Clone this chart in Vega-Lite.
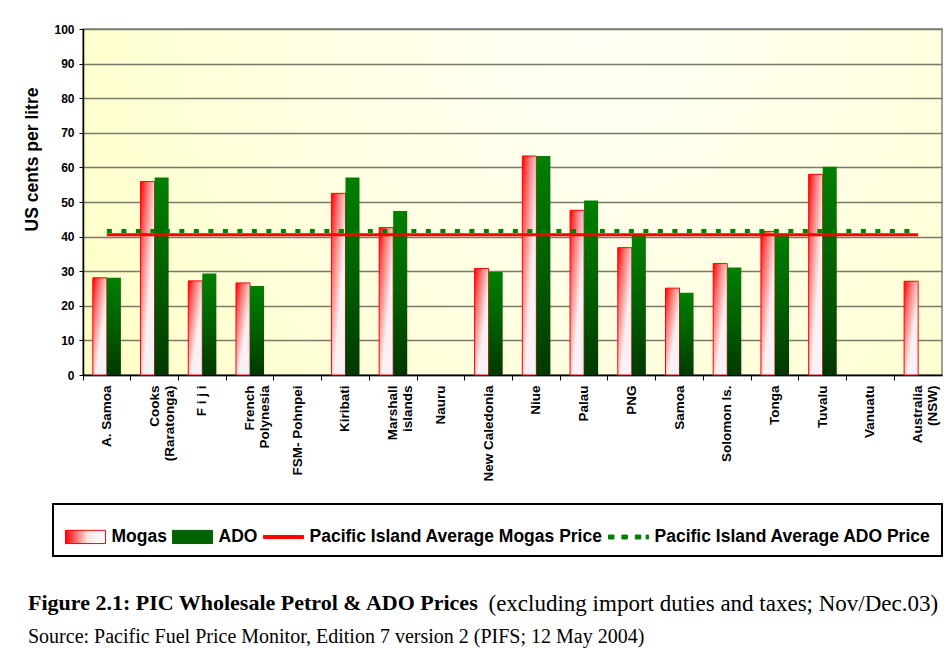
{
  "$schema": "https://vega.github.io/schema/vega-lite/v6.json",
  "width": 859,
  "height": 346,
  "autosize": "none",
  "padding": {"left": 83, "top": 29, "right": 8, "bottom": 273},
  "background": "white",
  "config": {
    "font": "Liberation Sans",
    "axisY": {"tickCount": 12},
    "legend": {"symbolSize": 1936},
    "view": {
      "fill": {"gradient": "radial", "x1": 0.6, "y1": 0.3, "r1": 0, "x2": 0.6, "y2": 0.3, "r2": 0.75,
        "stops": [{"offset": 0, "color": "#fffff6"}, {"offset": 0.5, "color": "#ffffe0"}, {"offset": 1, "color": "#ffffc4"}]},
      "stroke": "#808080",
      "strokeWidth": 1.5
    }
  },
  "title": {
    "text": "Figure 2.1: PIC Wholesale Petrol & ADO Prices",
    "subtitle": "Source: Pacific Fuel Price Monitor, Edition 7 version 2 (PIFS; 12 May 2004)",
    "orient": "bottom",
    "anchor": "start",
    "frame": "bounds",
    "offset": -22,
    "dx": 5,
    "font": "Liberation Serif",
    "fontSize": 22,
    "fontWeight": "bold",
    "color": "black",
    "subtitleFont": "Liberation Serif",
    "subtitleFontSize": 20,
    "subtitleFontWeight": "normal",
    "subtitleColor": "black",
    "subtitlePadding": 12
  },
  "datasets": {
    "prices": [
      {"country": "A. Samoa", "fuel": "Mogas", "price": 28.1},
      {"country": "A. Samoa", "fuel": "ADO", "price": 28.1},
      {"country": "Cooks|(Raratonga)", "fuel": "Mogas", "price": 55.9},
      {"country": "Cooks|(Raratonga)", "fuel": "ADO", "price": 57.1},
      {"country": "F i j i", "fuel": "Mogas", "price": 27.2},
      {"country": "F i j i", "fuel": "ADO", "price": 29.3},
      {"country": "French|Polynesia", "fuel": "Mogas", "price": 26.6},
      {"country": "French|Polynesia", "fuel": "ADO", "price": 25.7},
      {"country": "Kiribati", "fuel": "Mogas", "price": 52.5},
      {"country": "Kiribati", "fuel": "ADO", "price": 57.1},
      {"country": "Marshall|islands", "fuel": "Mogas", "price": 42.6},
      {"country": "Marshall|islands", "fuel": "ADO", "price": 47.4},
      {"country": "New Caledonia", "fuel": "Mogas", "price": 30.8},
      {"country": "New Caledonia", "fuel": "ADO", "price": 29.8},
      {"country": "Niue", "fuel": "Mogas", "price": 63.3},
      {"country": "Niue", "fuel": "ADO", "price": 63.3},
      {"country": "Palau", "fuel": "Mogas", "price": 47.6},
      {"country": "Palau", "fuel": "ADO", "price": 50.4},
      {"country": "PNG", "fuel": "Mogas", "price": 36.8},
      {"country": "PNG", "fuel": "ADO", "price": 40.4},
      {"country": "Samoa", "fuel": "Mogas", "price": 25.1},
      {"country": "Samoa", "fuel": "ADO", "price": 23.8},
      {"country": "Solomon Is.", "fuel": "Mogas", "price": 32.2},
      {"country": "Solomon Is.", "fuel": "ADO", "price": 31.1},
      {"country": "Tonga", "fuel": "Mogas", "price": 41.5},
      {"country": "Tonga", "fuel": "ADO", "price": 40.8},
      {"country": "Tuvalu", "fuel": "Mogas", "price": 58.0},
      {"country": "Tuvalu", "fuel": "ADO", "price": 60.2},
      {"country": "Australia|(NSW)", "fuel": "Mogas", "price": 27.1}
    ],
    "averages": [
      {"series": "Pacific Island Average Mogas Price", "start": "A. Samoa", "end": "Australia|(NSW)", "avg": 40.5},
      {"series": "Pacific Island Average ADO Price", "start": "A. Samoa", "end": "Australia|(NSW)", "avg": 41.6}
    ]
  },
  "layer": [
    {
      "data": {"name": "prices"},
      "transform": [{"filter": "datum.fuel === 'Mogas'"}],
      "mark": {
        "type": "bar",
        "fill": {"gradient": "linear", "x1": 0, "y1": 0, "x2": 1, "y2": 1,
          "stops": [{"offset": 0, "color": "#ff0000"}, {"offset": 0.25, "color": "#ff7070"}, {"offset": 0.6, "color": "#fff0f0"}, {"offset": 1, "color": "#f2f2ff"}]},
        "stroke": "#ff0000",
        "strokeWidth": 1
      },
      "encoding": {
        "x": {
          "field": "country", "type": "nominal", "sort": null,
          "title": "(excluding import duties and taxes; Nov/Dec.03)",
          "scale": {"domain": ["A. Samoa", "Cooks|(Raratonga)", "F i j i", "French|Polynesia", "FSM- Pohnpei", "Kiribati", "Marshall|islands", "Nauru", "New Caledonia", "Niue", "Palau", "PNG", "Samoa", "Solomon Is.", "Tonga", "Tuvalu", "Vanuatu", "Australia|(NSW)"], "paddingInner": 0, "paddingOuter": 0},
          "axis": {
            "bandPosition": 0,
            "labelAngle": -90,
            "labelExpr": "split(datum.label, '|')",
            "labelFont": "Liberation Sans",
            "labelFontSize": 13.5,
            "labelFontWeight": "bold",
            "labelColor": "black",
            "labelPadding": 5,
            "labelLineHeight": 15,
            "labelOverlap": false,
            "labelLimit": 200,
            "tickSize": 5,
            "tickColor": "black",
            "tickWidth": 1,
            "domainColor": "black",
            "domainWidth": 1.5,
            "grid": false,
            "titleFont": "Liberation Serif",
            "titleFontSize": 23,
            "titleFontWeight": "normal",
            "titleColor": "black",
            "titleX": 405,
            "titleY": 235,
            "titleAlign": "left",
            "titleBaseline": "alphabetic"
          }
        },
        "xOffset": {"field": "fuel", "type": "nominal", "scale": {"domain": ["Mogas", "ADO"], "paddingInner": 0, "paddingOuter": 0.7}},
        "y": {
          "field": "price", "type": "quantitative",
          "title": "US cents per litre",
          "scale": {"domain": [0, 100], "nice": false},
          "axis": {
            "values": [0, 10, 20, 30, 40, 50, 60, 70, 80, 90, 100],
            "tickCount": 12,
            "labelFont": "Liberation Sans",
            "labelFontSize": 12,
            "labelFontWeight": "bold",
            "labelColor": "black",
            "labelPadding": 5,
            "labelOverlap": false,
            "tickSize": 4,
            "tickColor": "black",
            "domainColor": "black",
            "domainWidth": 1.5,
            "gridColor": "#7a7a6a",
            "gridWidth": 1.5,
            "gridOpacity": 1,
            "titleFont": "Liberation Sans",
            "titleFontSize": 17.5,
            "titleFontWeight": "bold",
            "titleColor": "black",
            "titleAngle": -90,
            "titleX": -46,
            "titleY": 130,
            "titleAlign": "center",
            "titleBaseline": "alphabetic"
          }
        }
      }
    },
    {
      "data": {"name": "prices"},
      "transform": [{"filter": "datum.fuel === 'ADO'"}],
      "mark": {
        "type": "bar",
        "fill": {"gradient": "linear", "x1": 0, "y1": 0, "x2": 0, "y2": 1,
          "stops": [{"offset": 0, "color": "#008000"}, {"offset": 0.5, "color": "#006000"}, {"offset": 1, "color": "#003800"}]}
      },
      "encoding": {
        "x": {"field": "country", "type": "nominal", "sort": null, "title": "(excluding import duties and taxes; Nov/Dec.03)"},
        "xOffset": {"field": "fuel", "type": "nominal"},
        "y": {"field": "price", "type": "quantitative", "title": "US cents per litre", "axis": {"values": [0, 10, 20, 30, 40, 50, 60, 70, 80, 90, 100], "tickCount": 12}}
      }
    },
    {
      "data": {"name": "averages"},
      "transform": [{"filter": "datum.series === 'Pacific Island Average ADO Price'"}],
      "mark": {"type": "rule", "strokeWidth": 4, "strokeDash": [5, 9.5]},
      "encoding": {
        "x": {"field": "start", "type": "nominal", "title": "(excluding import duties and taxes; Nov/Dec.03)"},
        "x2": {"field": "end"},
        "y": {"field": "avg", "type": "quantitative", "title": "US cents per litre", "axis": {"values": [0, 10, 20, 30, 40, 50, 60, 70, 80, 90, 100], "tickCount": 12}},
        "color": {
          "field": "series", "type": "nominal",
          "scale": {"domain": ["Mogas", "ADO", "Pacific Island Average Mogas Price", "Pacific Island Average ADO Price"], "range": ["#ff0000", "#006400", "#ff0000", "#008000"]},
          "legend": {
            "orient": "none",
            "legendX": -30,
            "legendY": 475,
            "direction": "horizontal",
            "columns": 4,
            "title": null,
            "strokeColor": "black",
            "fillColor": "white",
            "padding": 10,
            "labelFont": "Liberation Sans",
            "labelFontSize": 17.5,
            "labelFontWeight": "bold",
            "labelColor": "black",
            "labelLimit": 400,
            "labelOffset": 3.5,
            "columnPadding": 3,
            "symbolSize": 1936,
            "symbolStrokeWidth": 1,
            "encode": {
              "legend": {"update": {"strokeWidth": {"value": 2}}},
              "symbols": {"update": {
                "size": {"value": 1936},
                "shape": {"signal": "datum.value === 'Mogas' || datum.value === 'ADO' ? 'M-0.91,-0.3H0.91V0.3H-0.91Z' : datum.value === 'Pacific Island Average Mogas Price' ? 'M-0.91,-0.07H0.91V0.07H-0.91Z' : 'M-0.91,-0.09H-0.66V0.09H-0.91Z M-0.3,-0.09H-0.05V0.09H-0.3Z M0.31,-0.09H0.56V0.09H0.31Z M0.8,-0.09H0.91V0.09H0.8Z'"},
                "fill": {"signal": "datum.value === 'Mogas' ? {gradient: 'linear', x1: 0, y1: 0, x2: 1, y2: 0, stops: [{offset: 0, color: '#ff0000'}, {offset: 0.55, color: '#ffe4e4'}, {offset: 1, color: '#ffffff'}]} : datum.value === 'ADO' ? '#006400' : datum.value === 'Pacific Island Average Mogas Price' ? '#ff0000' : '#008000'"},
                "stroke": {"signal": "datum.value === 'Mogas' ? '#ff0000' : datum.value === 'ADO' ? '#005000' : 'transparent'"},
                "strokeWidth": {"value": 1},
                "opacity": {"value": 1}
              }}
            }
          }
        }
      }
    },
    {
      "data": {"name": "averages"},
      "transform": [{"filter": "datum.series === 'Pacific Island Average Mogas Price'"}],
      "mark": {"type": "rule", "strokeWidth": 3},
      "encoding": {
        "x": {"field": "start", "type": "nominal", "title": "(excluding import duties and taxes; Nov/Dec.03)"},
        "x2": {"field": "end"},
        "y": {"field": "avg", "type": "quantitative", "title": "US cents per litre", "axis": {"values": [0, 10, 20, 30, 40, 50, 60, 70, 80, 90, 100], "tickCount": 12}},
        "color": {"field": "series", "type": "nominal"}
      }
    }
  ]
}
